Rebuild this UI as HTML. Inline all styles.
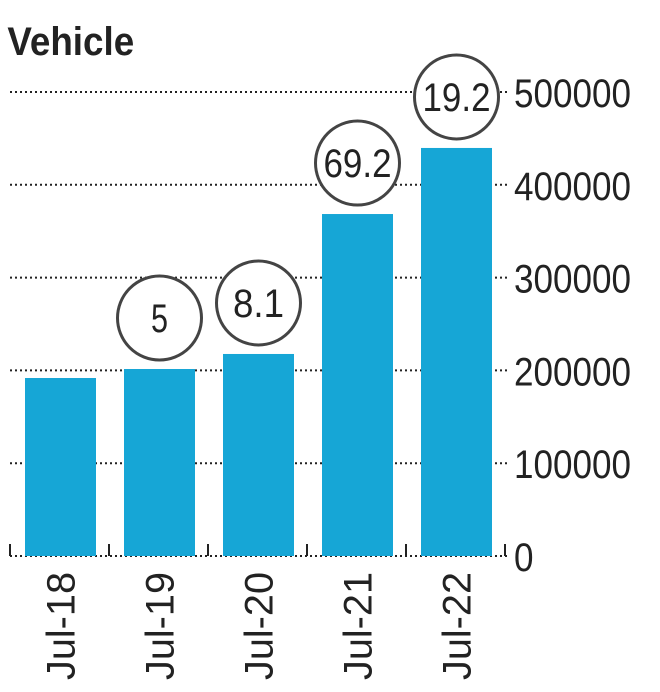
<!DOCTYPE html>
<html><head><meta charset="utf-8"><style>
body{margin:0;background:#fff;width:660px;height:692px;overflow:hidden}
svg{display:block}
text{font-family:"Liberation Sans",sans-serif;fill:#222}
</style></head><body>
<svg id="chart" width="660" height="692" xmlns="http://www.w3.org/2000/svg">
<text x="8" y="55" font-size="40" font-weight="bold" transform="scale(0.92,1)" style="fill:#222">Vehicle</text>
<g id="grid"></g><g id="bars"></g><g id="labels"></g>
</svg>
<script>
const categories=["Jul-18","Jul-19","Jul-20","Jul-21","Jul-22"];
const values=[191800,201500,217700,368500,439700];
const growth=["","5","8.1","69.2","19.2"];
const ticks=[0,100000,200000,300000,400000,500000];
const NS="http://www.w3.org/2000/svg";
const y0=556,pxPer=92.8/100000;
function y(v){return y0-v*pxPer;}
function xBand(i){return 10+i*99;}
function mk(tag,attrs,parent){const e=document.createElementNS(NS,tag);for(const k in attrs)e.setAttribute(k,attrs[k]);parent.appendChild(e);return e;}
const grid=document.getElementById('grid'),bars=document.getElementById('bars'),labels=document.getElementById('labels');
ticks.forEach(t=>{
  const l=mk('line',{x1:10,x2:510,y1:y(t),y2:y(t),stroke:'#222','stroke-width':2,'stroke-dasharray':'2,3'},grid);
  
  
  const tx=mk('text',{x:514,y:y(t)+15,'font-size':40,transform:'',textLength:String(t).length*19.5,lengthAdjust:'spacingAndGlyphs'},grid);
  tx.textContent=t;
  
  
});
for(let i=0;i<=5;i++){
  const tk=mk('line',{x1:xBand(i),x2:xBand(i),y1:y0-12,y2:y0,stroke:'#222','stroke-width':2},grid);
  
  
}
categories.forEach((c,i)=>{
  const bx=xBand(i)+15,bw=71,top=y(values[i]);
  const r=mk('rect',{x:bx,y:top,width:bw,height:y0-top,fill:'#16a6d6'},bars);
  
  
  const cx=bx+bw/2;
  const lt=mk('text',{x:0,y:0,'font-size':40,'text-anchor':'end',transform:`translate(${cx+14},572) rotate(-90)`,textLength:108,lengthAdjust:'spacingAndGlyphs'},labels);
  lt.textContent=c;
  
  
  if(growth[i]){
    const cy=top-51;
    const ci=mk('circle',{cx:cx,cy:cy,r:42,fill:'#fff',stroke:'#444','stroke-width':3},labels);
    
    
    const gt=mk('text',{x:cx,y:cy+14,'font-size':40,'text-anchor':'middle',textLength:growth[i].length*17,lengthAdjust:'spacingAndGlyphs'},labels);
    gt.textContent=growth[i];
    
    
  }
});
</script>
</body></html>
